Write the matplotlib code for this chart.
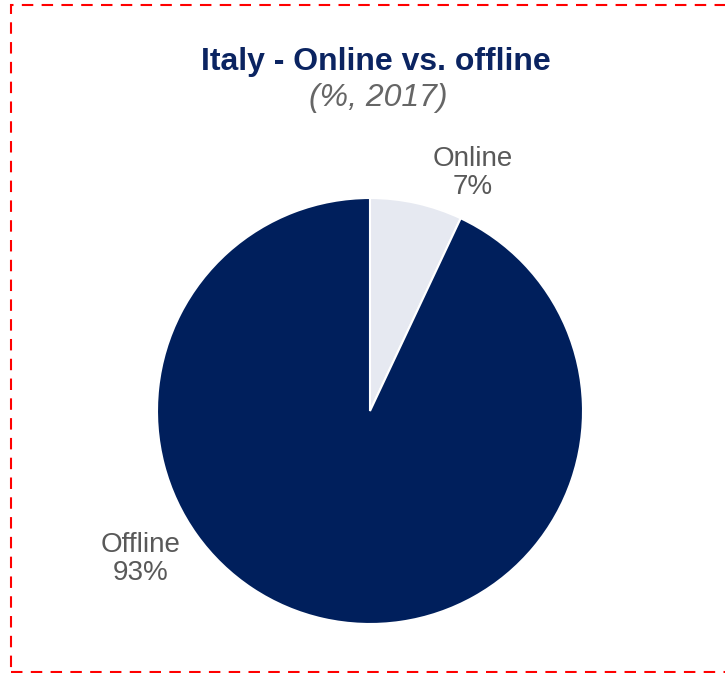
import matplotlib
matplotlib.use("Agg")
import matplotlib.pyplot as plt
from matplotlib.patches import Rectangle

plt.rcParams['font.family'] = ['Liberation Sans', 'DejaVu Sans']

labels = ['Online', 'Offline']
shares = [7, 93]
colors = ['#E6E9F1', '#001F5C']

fig = plt.figure(figsize=(7.25, 6.73), dpi=100)
ax = fig.add_axes([0, 0, 1, 1])

ax.pie(shares, colors=colors, startangle=90, counterclock=False,
       center=(370, 262), radius=213, frame=True,
       wedgeprops=dict(edgecolor='white', linewidth=1.5))
ax.set_xlim(0, 725)
ax.set_ylim(0, 673)
ax.set_aspect('equal')
ax.axis('off')

# category labels outside the slices
ax.text(473, 500, f"{labels[0]}\n{shares[0]}%", ha='center', va='center',
        fontsize=20, color='#595959', linespacing=1.15)
ax.text(141, 114, f"{labels[1]}\n{shares[1]}%", ha='center', va='center',
        fontsize=20, color='#595959', linespacing=1.15)

fig.text(376 / 725, 1 - 62 / 673, "Italy - Online vs. offline", ha='center', va='center',
         fontsize=23, fontweight='bold', color='#0B2461')
fig.text(378 / 725, 1 - 98 / 673, "(%, 2017)", ha='center', va='center',
         fontsize=23, fontstyle='italic', color='#666666')

# dashed frame
fig.patches.append(Rectangle((11 / 725, 1 - 672 / 673), 730 / 725, 667 / 673,
                             transform=fig.transFigure, fill=False,
                             edgecolor='#FF0000', linewidth=1.5,
                             linestyle=(0, (5.5, 4))))

fig.savefig('out.png', dpi=100)
